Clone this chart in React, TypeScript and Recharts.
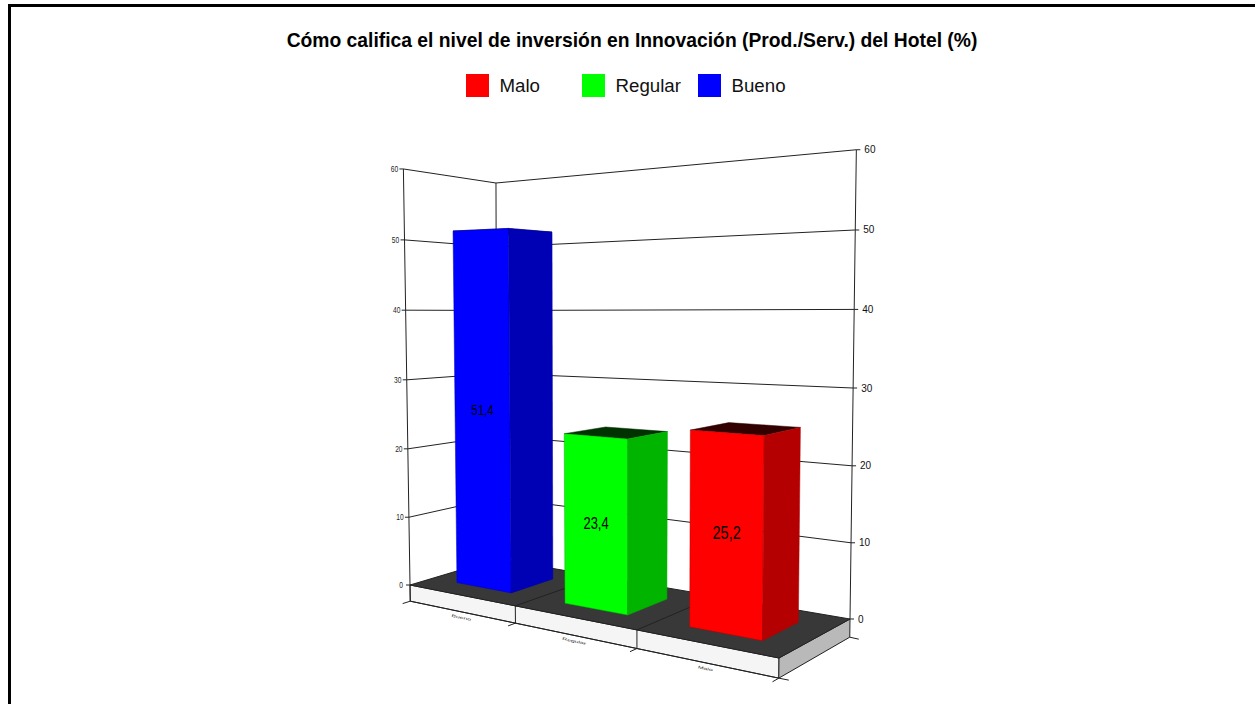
import React from 'react';
import { BarChart, Bar, XAxis, YAxis, CartesianGrid } from 'recharts';

const CATEGORIES = ['Bueno', 'Regular', 'Malo'];
const VALUES = [51.4, 23.4, 25.2];
const Y_TICKS = [0, 10, 20, 30, 40, 50, 60];
const LEGEND_NAMES = ['Malo', 'Regular', 'Bueno'];
const LEGEND_COLORS = ['#ff0000', '#00ff00', '#0000ff'];
const LEGEND_SWATCH_X = [466, 582, 698];

const FACE_COLORS: Record<string, { front: string; side: string; top: string }> = {
  Bueno: { front: '#0000ff', side: '#0000b4', top: '#000033' },
  Regular: { front: '#00ff00', side: '#00b400', top: '#003300' },
  Malo: { front: '#ff0000', side: '#b40000', top: '#330000' },
};

const WIDTH = 1255;
const HEIGHT = 704;
const AXIS_SIZE = 1;
const PLOT = { left: 100, top: 100, width: 1055, height: 554 };
const MARGIN = {
  top: PLOT.top,
  left: PLOT.left - AXIS_SIZE,
  right: WIDTH - PLOT.left - PLOT.width,
  bottom: HEIGHT - PLOT.top - PLOT.height - AXIS_SIZE,
};
const Y_MAX = 60;

// depth of the bars inside the floor, 0 = front edge, 1 = back wall
const BAR_DEPTH = [0.25, 0.74];
const BASE_T = -0.04;

type Pt = [number, number];

// floor corners: left, front, right, back
const FLOOR: Pt[] = [[410, 585], [779, 658], [850, 619], [497, 559]];
// how a unit of height moves a point on screen, and how it changes the perspective divide
const HEIGHT_X = -17.5;
const HEIGHT_Y = -420.6;
const HEIGHT_W = -0.027;

// unit square -> floor quad, extended with a height coordinate
const makeProjection = (q: Pt[]) => {
  const [[x0, y0], [x1, y1], [x2, y2], [x3, y3]] = q;
  const dx1 = x1 - x2;
  const dx2 = x3 - x2;
  const dy1 = y1 - y2;
  const dy2 = y3 - y2;
  const sx = x0 - x1 + x2 - x3;
  const sy = y0 - y1 + y2 - y3;
  const den = dx1 * dy2 - dx2 * dy1;
  const g = (sx * dy2 - dx2 * sy) / den;
  const h = (dx1 * sy - sx * dy1) / den;
  const a = x1 - x0 + g * x1;
  const b = x3 - x0 + h * x3;
  const d = y1 - y0 + g * y1;
  const e = y3 - y0 + h * y3;
  return (u: number, v: number, t: number): Pt => {
    const w = g * u + h * v + 1 + t * HEIGHT_W;
    // the back of the box rises a little less than the front corners
    const liftX = HEIGHT_X + 3 * v * (1 - u);
    const liftY = HEIGHT_Y + v * (7.4 - 5.9 * u);
    return [(a * u + b * v + x0 + t * liftX) / w, (d * u + e * v + y0 + t * liftY) / w];
  };
};

const project = makeProjection(FLOOR);

const poly = (pts: Pt[]) => pts.map((p) => p.join(',')).join(' ');
const Seg = ({ a, b, stroke = '#222' }: { a: Pt; b: Pt; stroke?: string }) => (
  <line x1={a[0]} y1={a[1]} x2={b[0]} y2={b[1]} stroke={stroke} strokeWidth={1} />
);

// floor slab and wall edges, painted behind the bars
const FloorAndBase = () => (
  <g>
    <polygon points={poly([project(0, 0, BASE_T), project(1, 0, BASE_T), project(1, 0, 0), project(0, 0, 0)])} fill="#f5f5f5" stroke="#222" />
    <polygon points={poly([project(1, 0, BASE_T), project(1, 1, BASE_T), project(1, 1, 0), project(1, 0, 0)])} fill="#b9b9b9" stroke="#222" />
    <polygon points={poly([project(0, 0, 0), project(1, 0, 0), project(1, 1, 0), project(0, 1, 0)])} fill="#383838" stroke="#222" />
    {[1 / 3, 2 / 3].map((u) => (
      <g key={u}>
        <Seg a={project(u, 0, 0)} b={project(u, 1, 0)} />
        <Seg a={project(u, 0, 0)} b={project(u, 0, BASE_T)} />
      </g>
    ))}
    <Seg a={project(0, 0, 0)} b={project(0, 0, 1)} />
    <Seg a={project(0, 1, 0)} b={project(0, 1, 1)} />
    <Seg a={project(1, 1, 0)} b={project(1, 1, 1)} />
    <Seg a={project(0, 0, BASE_T)} b={project(0, 0, 0)} />
    <Seg a={project(1, 1, BASE_T)} b={[project(1, 1, BASE_T)[0] + 9, project(1, 1, BASE_T)[1] + 2]} />
  </g>
);

const WallLine = (props: any) => {
  const t = 1 - (props.y1 - PLOT.top) / PLOT.height;
  if (t < 0.001) return <FloorAndBase key="floor" />;
  return (
    <g key={props.y1}>
      <Seg a={project(0, 0, t)} b={project(0, 1, t)} />
      <Seg a={project(0, 1, t)} b={project(1, 1, t)} />
    </g>
  );
};

// tick marks and labels on both outer wall edges
const ValueTick = (props: any) => {
  const value = props.payload.value;
  const t = 1 - (props.y - PLOT.top) / PLOT.height;
  const l = project(0, 0, t);
  const r = project(1, 1, t);
  return (
    <g>
      <Seg a={[l[0] - 4, l[1]]} b={l} />
      <Seg a={r} b={[r[0] + 4, r[1]]} />
      <text
        transform={`translate(${l[0] - 9},${l[1] + 3}) scale(0.7,1)`}
        textAnchor="middle"
        fontSize={9.5}
        fontFamily="Liberation Sans"
        fill="#222"
      >
        {value}
      </text>
      <text x={r[0] + 8} y={r[1] + 3.5} fontSize={10} fontFamily="Liberation Sans" fill="#111">
        {value}
      </text>
    </g>
  );
};

const CategoryTick = (props: any) => {
  const index = props.index;
  const u = (props.x - PLOT.left) / PLOT.width;
  const a = project(u, 0, BASE_T);
  const start = project(index / 3, 0, BASE_T);
  const end = project((index + 1) / 3, 0, BASE_T);
  const angle = (Math.atan2(end[1] - start[1], end[0] - start[0]) * 180) / Math.PI;
  return (
    <g>
      <Seg a={start} b={end} />
      <Seg a={start} b={project(index / 3, -0.08, BASE_T)} />
      {index === 2 ? <Seg a={end} b={[end[0] + 10, end[1] + 2]} /> : null}
      {index === 2 ? <Seg a={end} b={project(1, -0.08, BASE_T)} /> : null}
      <text
        transform={`translate(${a[0]},${a[1] + 7}) rotate(${angle}) scale(1,0.55)`}
        textAnchor="middle"
        fontSize={7}
        fontFamily="Liberation Sans"
        fill="#333"
      >
        {props.payload.value}
      </text>
    </g>
  );
};

const Bar3D = (props: any) => {
  const { x, y, width, index, value } = props;
  const u0 = (x - PLOT.left) / PLOT.width;
  const u1 = (x + width - PLOT.left) / PLOT.width;
  const t = 1 - (y - PLOT.top) / PLOT.height;
  const [v0, v1] = BAR_DEPTH;
  const c = FACE_COLORS[CATEGORIES[index]];
  const fb = project(u0, v0, 0);
  const fr = project(u1, v0, 0);
  const sr = project(u1, v1, 0);
  const tl = project(u0, v0, t);
  const tf = project(u1, v0, t);
  const tr = project(u1, v1, t);
  const tb = project(u0, v1, t);
  const cx = (fb[0] + fr[0] + tl[0] + tf[0]) / 4;
  const cy = (fb[1] + fr[1] + tl[1] + tf[1]) / 4;
  const span = fr[0] - fb[0];
  return (
    <g>
      <polygon points={poly([tl, tb, tr, tf])} fill={c.top} stroke={c.top} strokeWidth={0.5} />
      <polygon points={poly([fb, fr, tf, tl])} fill={c.front} stroke={c.side} strokeWidth={0.5} />
      <polygon points={poly([fr, sr, tr, tf])} fill={c.side} stroke={c.side} strokeWidth={0.5} />
      <text
        transform={`translate(${cx},${cy + 6}) scale(0.8,1)`}
        textAnchor="middle"
        fontSize={14 + (span - 52) * 0.2}
        fontFamily="Liberation Sans"
        fill="#000"
      >
        {String(value).replace('.', ',')}
      </text>
    </g>
  );
};

const LegendRow = () => (
  <div style={{ position: 'absolute', left: 0, top: 74, width: WIDTH, height: 24 }}>
    {LEGEND_NAMES.map((name, i) => (
      <React.Fragment key={name}>
        <div
          style={{
            position: 'absolute',
            left: LEGEND_SWATCH_X[i],
            top: 0,
            width: 23,
            height: 23,
            background: LEGEND_COLORS[i],
          }}
        />
        <div
          style={{
            position: 'absolute',
            left: LEGEND_SWATCH_X[i] + 33.5,
            top: 1,
            fontFamily: 'Liberation Sans',
            fontSize: 18.7,
            lineHeight: '22px',
            color: '#111',
          }}
        >
          {name}
        </div>
      </React.Fragment>
    ))}
  </div>
);

const chartData = CATEGORIES.map((name, i) => ({ name, value: VALUES[i] }));

export default function App() {
  return (
    <div style={{ position: 'absolute', left: 0, top: 0, width: WIDTH, height: HEIGHT, overflow: 'hidden', background: '#fff' }}>
      <div style={{ position: 'absolute', left: 8, top: 4, width: WIDTH, height: HEIGHT, borderLeft: '3px solid #000', borderTop: '3px solid #000' }} />
      <div
        style={{
          position: 'absolute',
          left: 0,
          top: 29,
          width: 1264,
          textAlign: 'center',
          fontFamily: 'Liberation Sans',
          fontWeight: 700,
          fontSize: 19.3,
          lineHeight: '24px',
          color: '#000',
        }}
      >
        Cómo califica el nivel de inversión en Innovación (Prod./Serv.) del Hotel (%)
      </div>
      <LegendRow />
      <BarChart
        width={WIDTH}
        height={HEIGHT}
        data={chartData}
        margin={MARGIN}
        barCategoryGap="24%"
        style={{ position: 'absolute', left: 0, top: 0 }}
      >
        <CartesianGrid vertical={false} horizontal={(p: any) => <WallLine {...p} />} />
        <XAxis dataKey="name" height={AXIS_SIZE} axisLine={false} tickLine={false} interval={0} tick={<CategoryTick />} />
        <YAxis width={AXIS_SIZE} domain={[0, Y_MAX]} ticks={Y_TICKS} axisLine={false} tickLine={false} interval={0} tick={<ValueTick />} />
        <Bar dataKey="value" shape={<Bar3D />} isAnimationActive={false} />
      </BarChart>
    </div>
  );
}
